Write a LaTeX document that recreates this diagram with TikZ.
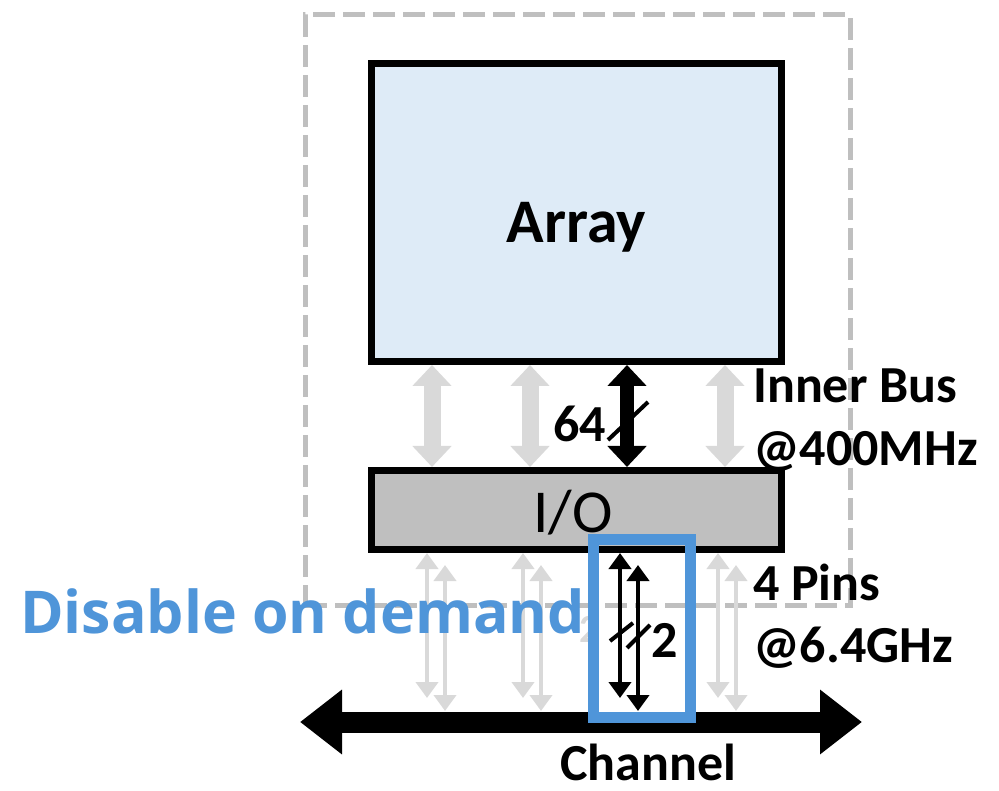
\documentclass[tikz,border=0pt]{standalone}
\usepackage{fontspec}
\setmainfont{Carlito}
\newfontfamily\opensansfam{Open Sans}
\usetikzlibrary{arrows.meta}
\definecolor{arrayblue}{RGB}{222,235,247}
\definecolor{iogray}{RGB}{191,191,191}
\definecolor{dashgray}{RGB}{191,191,191}
\definecolor{ghost}{RGB}{217,217,217}
\definecolor{selblue}{RGB}{79,149,217}
\tikzset{
  bustip/.tip={Triangle[width=38pt,length=21pt]},
  pintip/.tip={Triangle[width=22pt,length=16pt]},
  chantip/.tip={Triangle[width=62pt,length=42pt]},
  blockbox/.style={draw=black,line width=7pt,inner sep=0pt,minimum width=410pt},
  graybus/.style={color=ghost,line width=17pt,bustip-bustip},
  blackbus/.style={color=black,line width=14pt,bustip-bustip},
  graypin/.style={color=ghost,line width=4.5pt,pintip-pintip},
  blackpin/.style={color=black,line width=4.5pt,pintip-pintip},
  slashmark/.style={line width=4pt,color=black},
  lbl/.style={inner sep=0pt,font=\bfseries\fontsize{52}{56}\selectfont},
}
\begin{document}
\begin{tikzpicture}[x=1pt,y=-1pt]
\useasboundingbox (0,0) rectangle (999,791);
% die outline
\node[draw=dashgray,line width=5pt,dash pattern=on 22pt off 8pt,inner sep=0pt,
      minimum width=545pt,minimum height=590pt] (die) at (577.5,310) {};
% boxes
\node[blockbox,fill=arrayblue,minimum height=298pt] (array) at (576.5,212.5) {};
\node[inner sep=0pt,anchor=base,font=\bfseries\fontsize{62}{66}\selectfont] (arraylbl) at (576.5,243) {Array};
\node[blockbox,fill=iogray,minimum height=79pt] (io) at (576.5,510) {};
\node[inner sep=0pt,anchor=base,font=\fontsize{61}{66}\selectfont] (iolbl) at (573,532) {I/O};
% inner bus
\draw[graybus] (432,0 |- array.south) -- (432,0 |- io.north);
\draw[graybus] (530,0 |- array.south) -- (530,0 |- io.north);
\draw[graybus] (725,0 |- array.south) -- (725,0 |- io.north);
\draw[blackbus] (627,0 |- array.south) -- (627,0 |- io.north);
\coordinate (s1a) at (608,440); \coordinate (s1b) at (648,402);
\draw[slashmark] (s1a) -- (s1b);
\node[lbl,anchor=base east] (n64) at (606,442) {64};
\node[lbl,anchor=base west] (inner) at (753,403) {Inner Bus};
\node[lbl,anchor=base west] (f400) at (753,466) {@400MHz};
% channel
\coordinate (busL) at (300,722);
\coordinate (busR) at (862,722);
\coordinate (bustop) at (0,711);
\draw[line width=21pt,chantip-chantip] (busL) -- (busR);
\node[lbl,anchor=base] (chan) at (648,780) {Channel};
% ghost 2
\node[inner sep=0pt,anchor=base west,text=ghost,font=\bfseries\fontsize{40}{44}\selectfont] (ghost2) at (579,642) {2};
% pins
\foreach \px in {427,523,718}{
  \draw[graypin] (\px,0 |- io.south) -- (\px,698);
  \draw[graypin] (\px+18,565) -- (\px+18,0 |- bustop);
}
\draw[blackpin] (620,0 |- io.south) -- (620,698);
\draw[blackpin] (638,565) -- (638,0 |- bustop);
\coordinate (s2a) at (610,641); \coordinate (s2b) at (633,623);
\coordinate (s3a) at (627,648); \coordinate (s3b) at (650,625);
\draw[slashmark] (s2a) -- (s2b);
\draw[slashmark] (s3a) -- (s3b);
\node[lbl,anchor=base west] (n2) at (651,657) {2};
\node[lbl,anchor=base west] (pins) at (753,600) {4 Pins};
\node[lbl,anchor=base west] (f64) at (753,662) {@6.4GHz};
% selection
\node[inner sep=0pt,anchor=base west,text=selblue,font=\opensansfam\bfseries\fontsize{59}{62}\selectfont] (dis) at (20,633) {Disable on demand};
\node[draw=selblue,line width=11pt,inner sep=0pt,minimum width=97pt,minimum height=178pt] (sel) at (642,628.5) {};
\end{tikzpicture}
\end{document}
